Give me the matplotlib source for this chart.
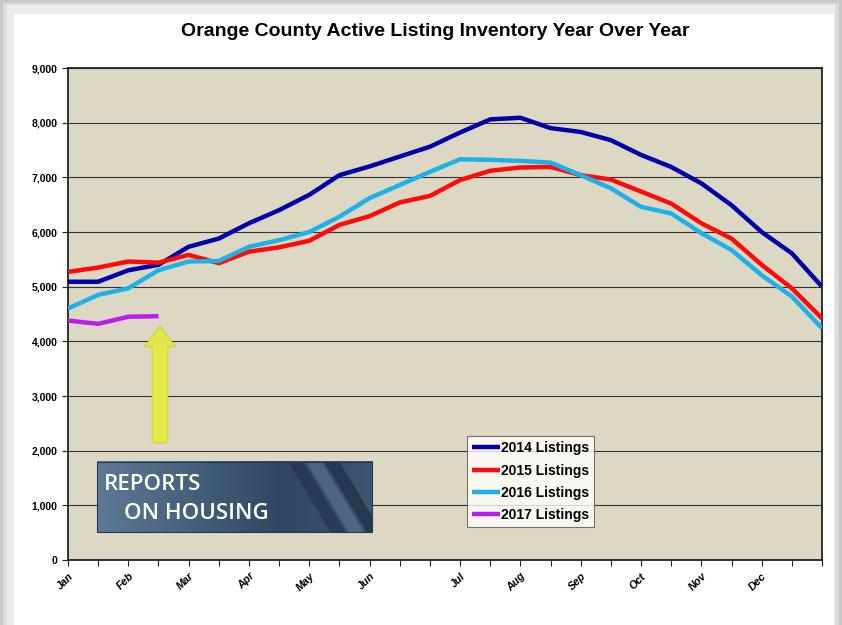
import matplotlib
matplotlib.use("Agg")
import matplotlib.pyplot as plt
import matplotlib.patches as mpatches
import numpy as np

# Biweekly category axis: 26 points, month label on selected ticks
month_labels = ["Jan", "", "Feb", "", "Mar", "", "Apr", "", "May", "", "Jun", "", "",
                "Jul", "", "Aug", "", "Sep", "", "Oct", "", "Nov", "", "Dec", "", ""]

listings_2014 = [5090, 5090, 5300, 5400, 5730, 5880, 6160, 6400, 6680, 7040, 7200, 7380, 7560,
                 7820, 8060, 8090, 7900, 7830, 7680, 7410, 7190, 6890, 6490, 6000, 5610, 5000]
listings_2015 = [5270, 5350, 5460, 5440, 5580, 5430, 5640, 5720, 5840, 6130, 6290, 6540, 6660,
                 6950, 7120, 7180, 7190, 7040, 6960, 6740, 6520, 6160, 5880, 5400, 4970, 4420]
listings_2016 = [4600, 4850, 4970, 5300, 5460, 5470, 5730, 5850, 6000, 6280, 6620, 6860, 7100,
                 7330, 7320, 7300, 7270, 7040, 6800, 6460, 6340, 5980, 5670, 5210, 4820, 4240]
listings_2017 = [4380, 4320, 4450, 4460]

series = [
    ("2014 Listings", listings_2014, "#0000A8"),
    ("2015 Listings", listings_2015, "#FF0A0A"),
    ("2016 Listings", listings_2016, "#1EB0E8"),
    ("2017 Listings", listings_2017, "#B81EF0"),
]

plt.rcParams["font.family"] = ["Liberation Sans", "DejaVu Sans"]

fig = plt.figure(figsize=(8.42, 6.25), dpi=100)
fig.patch.set_facecolor("white")

# shadowed page frame around the chart
for pad, col in [(0.0, "#c8c8c8"), (0.004, "#dcdcdc"), (0.008, "#ececec")]:
    fig.patches.append(mpatches.Rectangle((pad, 0), 1 - 2 * pad, 1 - pad,
                                          transform=fig.transFigure, facecolor=col,
                                          edgecolor="none", zorder=-3))
fig.patches.append(mpatches.Rectangle((14 / 842, 0), 820 / 842, 1 - 14 / 625,
                                      transform=fig.transFigure, facecolor="white",
                                      edgecolor="none", zorder=-2))

ax = fig.add_axes([68 / 842, 1 - 560 / 625, 754 / 842, 492 / 625])
ax.set_facecolor("#DDD8C3")

x = np.arange(len(month_labels))
for label, values, color in series:
    ax.plot(x[:len(values)], values, color=color, linewidth=3.2, label=label,
            solid_capstyle="butt", zorder=4)

ax.set_yticks(range(0, 9001, 1000))
ax.set_yticklabels([f"{v:,}" for v in range(0, 9001, 1000)], fontsize=7.5, fontweight="bold")
ax.set_xticks(x)
ax.set_xticklabels(month_labels, rotation=45, ha="right", rotation_mode="anchor",
                   fontsize=7.8, fontweight="bold", style="italic")
ax.tick_params(axis="both", direction="out", length=4, width=0.8, color="#222222")
ax.tick_params(axis="x", pad=4)
ax.grid(True, axis="y", color="#333333", linewidth=0.8, zorder=1)
ax.set_axisbelow(True)
for side in ax.spines.values():
    side.set_color("#222222")
    side.set_linewidth(1.3)

fig.text(435 / 842, 1 - 32 / 625, "Orange County Active Listing Inventory Year Over Year",
         fontsize=14, fontweight="bold", ha="center", va="center")

# yellow arrow pointing at the 2017 line
arrow = mpatches.FancyArrow(3.05, 2140, 0, 2140, width=0.52, head_width=1.05,
                            head_length=380, length_includes_head=True,
                            facecolor="#E4E64A", edgecolor="#C9CB3A", linewidth=0.6,
                            zorder=3)
ax.add_patch(arrow)

# "Reports on Housing" banner
bx0, bx1, by0, by1 = 0.96, 10.09, 510, 1795
banner_cmap = matplotlib.colors.LinearSegmentedColormap.from_list(
    "banner", ["#5d7993", "#46617c", "#2f4761", "#3c5672"])
grad = np.linspace(0, 1, 256).reshape(1, -1)
ax.imshow(grad, extent=(bx0, bx1, by0, by1), aspect="auto", cmap=banner_cmap, zorder=3)
frame = mpatches.Rectangle((bx0, by0), bx1 - bx0, by1 - by0, fill=False,
                           edgecolor="#2a3b50", linewidth=0.8, zorder=3.3)
ax.add_patch(frame)
for off, col in [(7.3, "#22354a"), (7.9, "#56708c"), (8.5, "#1d2e42")]:
    stripe = mpatches.Polygon([(off, by1), (off + 0.5, by1), (off + 1.9, by0), (off + 1.4, by0)],
                              closed=True, facecolor=col, edgecolor="none", alpha=0.7,
                              zorder=3.2)
    ax.add_patch(stripe)
    stripe.set_clip_path(frame)
ax.text(1.2, 1380, "REPORTS", color="white", fontsize=16, family="Open Sans",
        fontweight="semibold", va="center", ha="left", zorder=3.5)
ax.text(1.85, 850, "ON HOUSING", color="white", fontsize=16, family="Open Sans",
        fontweight="semibold", va="center", ha="left", zorder=3.5)
ax.set_xlim(0, len(month_labels) - 1)
ax.set_ylim(0, 9000)

leg = ax.legend(loc="lower left", bbox_to_anchor=(0.529, 0.067), borderaxespad=0,
                frameon=True, fancybox=False, borderpad=0.35, labelspacing=0.6,
                handlelength=2.0, handletextpad=0.1, prop={"weight": "bold", "size": 10})
leg.get_frame().set_edgecolor("#555555")
leg.get_frame().set_linewidth(0.8)
leg.set_zorder(6)

fig.savefig("out.png", dpi=100)
